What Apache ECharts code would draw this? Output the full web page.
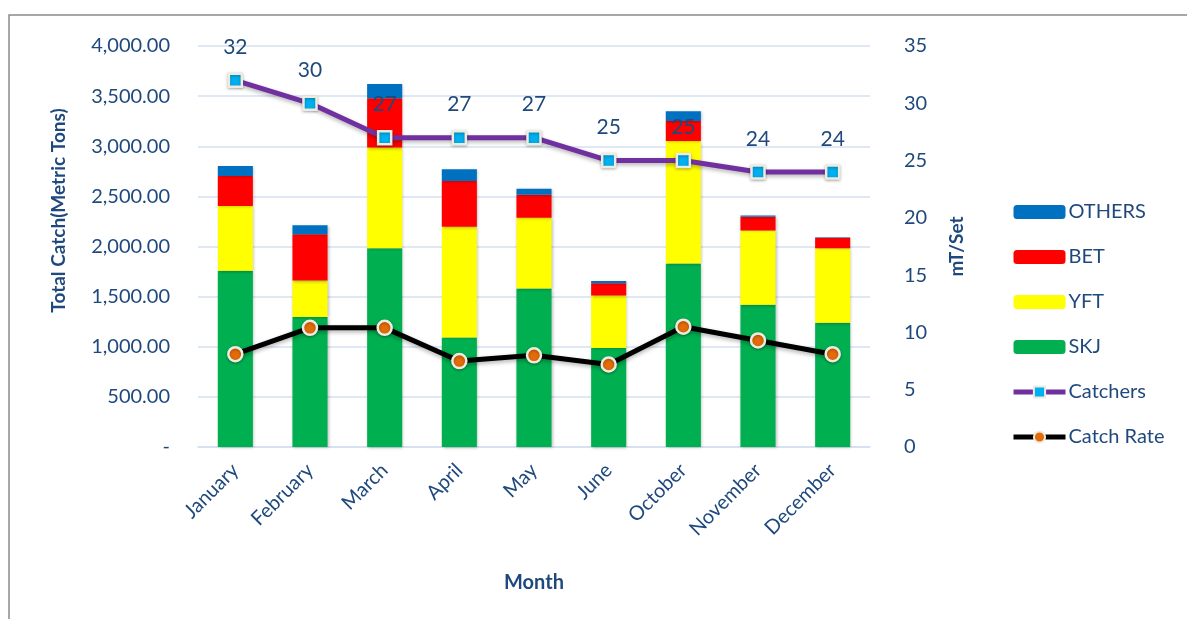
<!DOCTYPE html>
<html lang="en">
<head>
    <meta charset="UTF-8">
    <title>Monthly Catch</title>
    <style>
        html, body { margin: 0; padding: 0; background: #fff; }
        #chart { width: 1187px; height: 619px; }
    </style>
    <script src="https://cdn.jsdelivr.net/npm/echarts@6/dist/echarts.min.js"></script>
</head>
<body>
<div id="chart"></div>
<script>
    // months shown on the x axis
    var months = ['January', 'February', 'March', 'April', 'May', 'June', 'October', 'November', 'December'];

    // catch by species (metric tons), stacked bottom to top
    var skj = [1757, 1297, 1983, 1093, 1580, 987, 1830, 1420, 1240];
    var yft = [646, 363, 1004, 1104, 707, 523, 1223, 740, 743];
    var bet = [300, 463, 493, 456, 230, 123, 200, 137, 104];
    var others = [100, 90, 140, 117, 60, 24, 97, 13, 6];

    // right axis: number of catchers and catch rate (mT/set)
    var catchers = [32, 30, 27, 27, 27, 25, 25, 24, 24];
    var catchRate = [8.1, 10.4, 10.4, 7.5, 8.0, 7.2, 10.5, 9.3, 8.1];

    var txt = '#1f497d';
    var font = 'Lato, "Open Sans", sans-serif';

    var chart = echarts.init(document.getElementById('chart'));

    function barSeries(name, data, color) {
        return {
            name: name,
            type: 'bar',
            stack: 'catch',
            barWidth: '47%',
            data: data,
            itemStyle: {
                color: color,
                shadowColor: 'rgba(0,0,0,0.25)',
                shadowBlur: 3,
                shadowOffsetX: 1,
                shadowOffsetY: 1
            }
        };
    }

    var option = {
        animation: false,
        textStyle: { fontFamily: font, color: txt },
        // frame of the chart area (only top and left edges are visible)
        graphic: [{
            type: 'polyline',
            shape: { points: [[9, 700], [9, 15], [1400, 15]] },
            style: { fill: 'none', stroke: '#8a8a8a', lineWidth: 1.5 },
            silent: true
        }],
        grid: { left: 198, right: 317, top: 46, bottom: 172 },
        legend: {
            orient: 'vertical',
            left: 1006,
            top: 197,
            itemWidth: 52,
            itemHeight: 14,
            itemGap: 25,
            lineStyle: { width: 'inherit' },
            textStyle: { fontFamily: font, fontSize: 20, color: txt, padding: [0, 0, 0, -2] },
            data: ['OTHERS', 'BET', 'YFT', 'SKJ', 'Catchers', 'Catch Rate']
        },
        xAxis: {
            type: 'category',
            data: months,
            name: 'Month',
            nameLocation: 'middle',
            nameGap: 126,
            nameTextStyle: { fontFamily: font, fontSize: 20, fontWeight: 'bold', color: txt },
            axisLine: { lineStyle: { color: '#d5e0f0', width: 1.5 } },
            axisTick: { show: false },
            axisLabel: {
                rotate: 45,
                fontSize: 20,
                color: txt,
                fontFamily: font,
                margin: 20
            }
        },
        yAxis: [{
            type: 'value',
            min: 0,
            max: 4000,
            interval: 500,
            name: 'Total Catch(Metric Tons)',
            nameLocation: 'middle',
            nameRotate: 90,
            nameGap: 130,
            nameTextStyle: {
                fontFamily: font, fontSize: 19, fontWeight: 'bold', color: txt,
                padding: [0, 0, 0, 72]
            },
            axisLine: { show: false },
            axisTick: { show: false },
            splitLine: { lineStyle: { color: '#d5e0f0', width: 1.5 } },
            axisLabel: {
                fontSize: 20,
                color: txt,
                fontFamily: font,
                margin: 28,
                formatter: function (v) {
                    if (v === 0) return '-';
                    return v.toLocaleString('en-US', { minimumFractionDigits: 2, maximumFractionDigits: 2 });
                }
            }
        }, {
            type: 'value',
            min: 0,
            max: 35,
            interval: 5,
            name: 'mT/Set',
            nameLocation: 'middle',
            nameRotate: 90,
            nameGap: 77,
            nameTextStyle: { fontFamily: font, fontSize: 19, fontWeight: 'bold', color: txt },
            axisLine: { show: false },
            axisTick: { show: false },
            splitLine: { show: false },
            axisLabel: { fontSize: 20, color: txt, fontFamily: font, margin: 34 }
        }],
        series: [
            barSeries('SKJ', skj, '#00b050'),
            barSeries('YFT', yft, '#ffff00'),
            barSeries('BET', bet, '#ff0000'),
            barSeries('OTHERS', others, '#0070c0'),
            {
                name: 'Catchers',
                type: 'line',
                yAxisIndex: 1,
                data: catchers,
                symbol: 'rect',
                symbolSize: 13,
                z: 5,
                lineStyle: {
                    color: '#7030a0',
                    width: 5,
                    shadowColor: 'rgba(0,0,0,0.3)',
                    shadowBlur: 4,
                    shadowOffsetY: 2
                },
                itemStyle: {
                    color: '#00b0f0',
                    borderColor: '#eeece1',
                    borderWidth: 2.5,
                    shadowColor: 'rgba(0,0,0,0.3)',
                    shadowBlur: 3,
                    shadowOffsetY: 1
                },
                label: {
                    show: true,
                    position: 'top',
                    distance: 15,
                    fontSize: 21,
                    color: txt,
                    fontFamily: font
                }
            },
            {
                name: 'Catch Rate',
                type: 'line',
                yAxisIndex: 1,
                data: catchRate,
                symbol: 'circle',
                symbolSize: 14,
                z: 5,
                lineStyle: {
                    color: '#000',
                    width: 5,
                    shadowColor: 'rgba(0,0,0,0.3)',
                    shadowBlur: 4,
                    shadowOffsetY: 2
                },
                itemStyle: {
                    color: '#e36c09',
                    borderColor: '#eeece1',
                    borderWidth: 2.5,
                    shadowColor: 'rgba(0,0,0,0.3)',
                    shadowBlur: 3,
                    shadowOffsetY: 1
                }
            }
        ]
    };

    chart.setOption(option);
</script>
</body>
</html>
